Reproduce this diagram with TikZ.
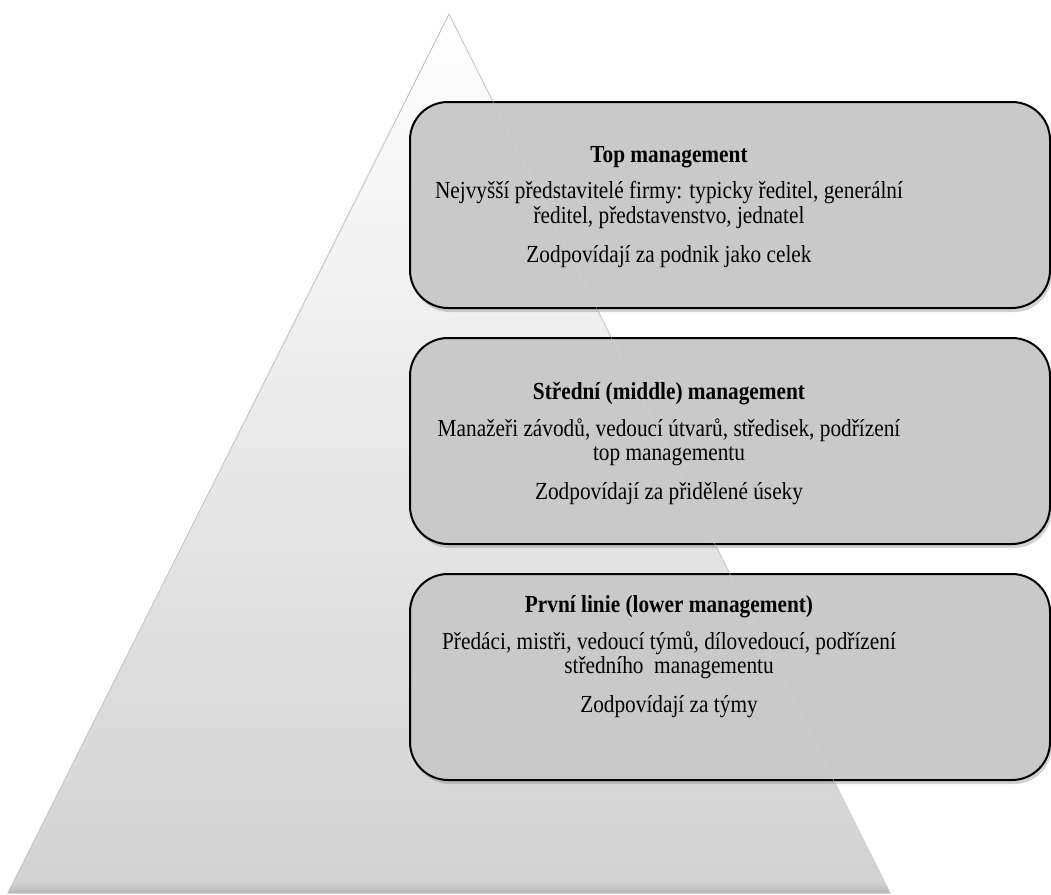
\documentclass[tikz,border=0pt]{standalone}
\usepackage{fontspec}
\setmainfont{Liberation Serif}
\usetikzlibrary{positioning, shadows}
\definecolor{boxgray}{HTML}{C9C9C9}
\definecolor{pyrgray}{HTML}{D2D2D2}
% text urovne: nadpis, dva radky popisu, odpovednost
\newcommand{\urovnetext}[4]{\scalebox{1}[1.15]{%
	\begin{tabular}{@{}c@{}}
	\textbf{#1}\\[9.8pt]
	#2\\
	#3\\[12pt]
	#4
	\end{tabular}}}

\begin{document}
\begin{tikzpicture}[x=1pt, y=-1pt,
		ebene/.style={
			rectangle,
			rounded corners=38pt,
			draw=black, line width=2pt,
			fill=boxgray,
			minimum width=640pt,
			minimum height=206pt,
			drop shadow={shadow xshift=2pt, shadow yshift=-4pt, opacity=0.35}},
		popis/.style={
			inner sep=0pt,
			font=\rmfamily\fontsize{21.3}{21.5}\selectfont},
		node distance=28pt]
		\useasboundingbox (0,0) rectangle (1051,894);
		% pyramida
		\coordinate (apex) at (449,14);
		\coordinate (bl) at (8,893);
		\coordinate (br) at (890,893);
		\shade[top color=white, bottom color=pyrgray, draw=gray!45, line width=1pt] (apex) -- (br) -- (bl) -- cycle;
		\shade[top color=pyrgray, bottom color=gray!55] (14,881) -- (884,881) -- (br) -- (bl) -- cycle;
		% urovne
		\node[ebene] (top) at (730,205) {};
		\node[ebene, below=of top] (mid) {};
		\node[ebene, below=of mid] (low) {};
		\draw[gray!30, opacity=0.7] (apex) -- (br);
		% texty
		\node[popis] (toptext) at ([xshift=-61pt, yshift=-2.5pt]top.center)
			{\urovnetext{Top management}
			 {Nejvyšší představitelé firmy: typicky ředitel, generální}
			 {ředitel, představenstvo, jednatel}
			 {Zodpovídají za podnik jako celek}};
		\node[popis] (midtext) at ([xshift=-61pt, yshift=-3.5pt]mid.center)
			{\urovnetext{Střední (middle) management}
			 {Manažeři závodů, vedoucí útvarů, středisek, podřízení}
			 {top managementu}
			 {Zodpovídají za přidělené úseky}};
		\node[popis] (lowtext) at ([xshift=-61pt, yshift=19.5pt]low.center)
			{\urovnetext{První linie (lower management)}
			 {Předáci, mistři, vedoucí týmů, dílovedoucí, podřízení}
			 {středního\ \ managementu}
			 {Zodpovídají za týmy}};
\end{tikzpicture}
\end{document}
